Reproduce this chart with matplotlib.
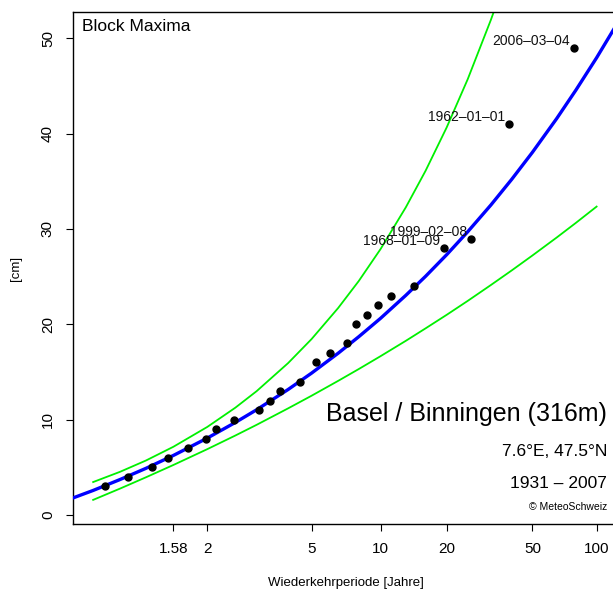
import numpy as np
import matplotlib
matplotlib.use("Agg")
import matplotlib.pyplot as plt
from matplotlib.ticker import FixedLocator, FixedFormatter, NullLocator

plt.rcParams['font.family'] = ['Liberation Sans', 'DejaVu Sans']

# observed block maxima: return period [years] and value [cm]
obs_T = [1.14, 1.24, 1.39, 1.53, 1.74, 1.98, 2.14, 2.48, 3.07, 3.39, 3.72, 4.46,
         5.2, 5.97, 7.08, 7.8, 8.67, 9.77, 11.14, 14.2, 19.5, 26.0, 39.0, 78.0]
obs_v = [3, 4, 5, 6, 7, 8, 9, 10, 11, 12, 13, 14,
         16, 17, 18, 20, 21, 22, 23, 24, 28, 29, 41, 49]

# labelled events
lab_T = [19.5, 26.0, 39.0, 78.0]
lab_v = [28, 29, 41, 49]
lab_txt = ["1968\u201301\u201309", "1999\u201302\u201308", "1962\u201301\u201301", "2006\u201303\u201304"]

# fitted return level curve
fit_T = [1.04, 1.1, 1.2, 1.35, 1.58, 2, 2.5, 3, 4, 5, 6.5, 8, 10, 13, 16, 20, 25, 32,
         40, 50, 65, 80, 100, 126]
fit_v = [1.48, 2.58, 3.72, 4.90, 6.25, 8.07, 9.71, 11.04, 13.17, 14.88, 16.97, 18.70,
         20.63, 23.04, 25.04, 27.31, 29.71, 32.51, 35.20, 38.04, 41.59, 44.58, 47.96, 51.68]

# confidence band
lo_T = [1.1, 1.2, 1.35, 1.58, 2, 2.5, 3, 4, 5, 6.5, 8, 10, 13, 16, 20, 25, 32, 40,
        50, 65, 80, 100]
lo_v = [1.59, 2.77, 3.96, 5.25, 6.91, 8.34, 9.46, 11.19, 12.51, 14.07, 15.31, 16.66,
        18.27, 19.58, 21.00, 22.46, 24.12, 25.65, 27.22, 29.11, 30.65, 32.35]
hi_T = [1.1, 1.2, 1.35, 1.58, 2, 2.5, 3, 4, 5, 6.5, 8, 10, 13, 16, 20, 25, 32, 35]
hi_v = [3.46, 4.53, 5.72, 7.16, 9.24, 11.26, 12.99, 15.94, 18.45, 21.71, 24.54, 27.89,
        32.27, 36.11, 40.66, 45.71, 51.92, 54.36]

x_ticks = [1.58, 2, 5, 10, 20, 50, 100]
x_ticklabels = ["1.58", "2", "5", "10", "20", "50", "100"]
y_ticks = [0, 10, 20, 30, 40, 50]


def fwd(T):
    T = np.asarray(T, dtype=float)
    with np.errstate(all='ignore'):
        Tc = np.where(T > 1.0000001, T, 1.0000001)
        return -np.log(-np.log(1.0 - 1.0 / Tc))


def inv(u):
    u = np.asarray(u, dtype=float)
    with np.errstate(all='ignore'):
        return 1.0 / (1.0 - np.exp(-np.exp(-u)))


W, H = 613, 590
fig = plt.figure(figsize=(W / 100, H / 100), dpi=100)
left, right, top, bottom = 73, 618, 11.7, 524
ax = fig.add_axes([left / W, (H - bottom) / H, (right - left) / W, (bottom - top) / H])
ax.set_xscale('function', functions=(fwd, inv))
ax.set_xlim(1.0532, 126.06)
ax.set_ylim(-0.94, 52.79)

ax.plot(hi_T, hi_v, color='#00F000', lw=1.3, zorder=2)
ax.plot(lo_T, lo_v, color='#00F000', lw=1.3, zorder=2)
ax.plot(fit_T, fit_v, color='#0000FF', lw=2.4, zorder=3)
ax.plot(obs_T, obs_v, 'o', color='black', ms=5, zorder=4)

for t, v, s in zip(lab_T, lab_v, lab_txt):
    ax.annotate(s, (t, v), xytext=(-3, 5), textcoords='offset points',
                ha='right', va='center', fontsize=10, color='#111111')

ax.xaxis.set_major_locator(FixedLocator(x_ticks))
ax.xaxis.set_major_formatter(FixedFormatter(x_ticklabels))
ax.xaxis.set_minor_locator(NullLocator())
ax.set_yticks(y_ticks)
ax.tick_params(axis='both', direction='out', length=5, width=0.8, labelsize=11, color='black')
ax.tick_params(axis='x', pad=8)
ax.tick_params(axis='y', pad=8, labelrotation=90)
for lbl in ax.get_yticklabels():
    lbl.set_va('center')

for s in ax.spines.values():
    s.set_linewidth(1.0)
    s.set_color('black')

ax.text(0.016, 0.985, "Block Maxima", transform=ax.transAxes, ha='left', va='top', fontsize=12.5)

fx = 607 / W
fig.text(fx, 1 - 414 / H, "Basel / Binningen (316m)", ha='right', va='center', fontsize=18)
fig.text(fx, 1 - 451 / H, "7.6\u00b0E, 47.5\u00b0N", ha='right', va='center', fontsize=12.5)
fig.text(fx, 1 - 483 / H, "1931 \u2013 2007", ha='right', va='center', fontsize=12.5)
fig.text(fx, 1 - 506.5 / H, "\u00a9 MeteoSchweiz", ha='right', va='center', fontsize=7.5)

fig.text(345.5 / W, 1 - 583 / H, "Wiederkehrperiode [Jahre]", ha='center', va='center', fontsize=9.5)
fig.text(16 / W, 1 - 268 / H, "[cm]", ha='center', va='center', rotation=90, fontsize=9.5)

fig.savefig("out.png", dpi=100)
